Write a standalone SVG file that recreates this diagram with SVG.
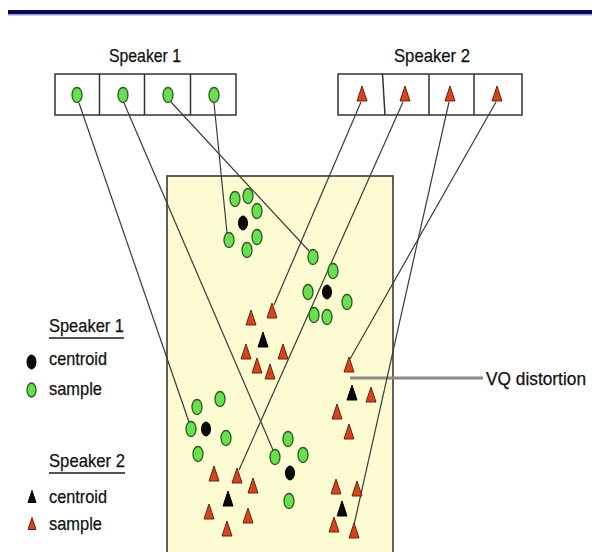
<svg xmlns="http://www.w3.org/2000/svg" xmlns:xlink="http://www.w3.org/1999/xlink" width="592" height="552" viewBox="0 0 592 552">
<style>
text{font-family:"Liberation Sans",Arial,sans-serif;font-size:19px;fill:#111111;stroke:#111111;stroke-width:0.25}
.cell{fill:#ffffff;stroke:#333333;stroke-width:1.5}
.g{fill:#6ade52;stroke:#2a5e1c;stroke-width:1.3}
.c{fill:#0a0a0a;stroke:#000000;stroke-width:1}
.r{fill:#d2451e;stroke:#6e2410;stroke-width:1}
.k{fill:#0a0a0a;stroke:#000000;stroke-width:1}
.ln{stroke:#3a3a3a;stroke-width:1.2;fill:none}
</style>
<defs>
<path id="tri" d="M0,-8 L5,7 L-5,7 Z"/>
<path id="trs" d="M0,-6.5 L4,5.5 L-4,5.5 Z"/>
<ellipse id="gc" cx="0" cy="0" rx="5" ry="7.5"/>
<ellipse id="bc" cx="0" cy="0" rx="4.5" ry="7"/>
</defs>
<rect width="592" height="552" fill="#ffffff"/>
<rect x="8" y="10" width="584" height="4" fill="#0b0b55"/>
<rect x="8" y="14" width="584" height="1.5" fill="#9a9ad8"/>

<g id="speaker1-codebook">
<text x="145" y="62" text-anchor="middle" textLength="72" lengthAdjust="spacingAndGlyphs">Speaker 1</text>
<rect class="cell" x="55" y="74" width="181" height="41"/>
<line x1="99.5" y1="74" x2="99.5" y2="115" stroke="#333" stroke-width="1.5"/>
<line x1="144.5" y1="74" x2="144.5" y2="115" stroke="#333" stroke-width="1.5"/>
<line x1="190.5" y1="74" x2="190.5" y2="115" stroke="#333" stroke-width="1.5"/>
<use href="#gc" class="g" x="77" y="95"/>
<use href="#gc" class="g" x="123" y="95"/>
<use href="#gc" class="g" x="168" y="95"/>
<use href="#gc" class="g" x="214" y="95"/>
</g>

<g id="speaker2-codebook">
<text x="432" y="62" text-anchor="middle" textLength="76" lengthAdjust="spacingAndGlyphs">Speaker 2</text>
<rect class="cell" x="338" y="74" width="184" height="41"/>
<line x1="382.5" y1="74" x2="385" y2="115" stroke="#333" stroke-width="1.5"/>
<line x1="429" y1="74" x2="429" y2="115" stroke="#333" stroke-width="1.5"/>
<line x1="474" y1="74" x2="474" y2="115" stroke="#333" stroke-width="1.5"/>
<use href="#tri" class="r" x="362" y="94"/>
<use href="#tri" class="r" x="405" y="94"/>
<use href="#tri" class="r" x="450" y="94"/>
<use href="#tri" class="r" x="497" y="94"/>
</g>

<g id="feature-space">
<rect x="167" y="176" width="226" height="390" fill="#fdfbd2" stroke="#3a3a3a" stroke-width="1.6"/>
</g>

<g id="vq-distortion">
<line x1="350" y1="378" x2="483" y2="378" stroke="#8a8a80" stroke-width="3"/>
<text x="486" y="385" style="font-size:18px" textLength="100" lengthAdjust="spacingAndGlyphs">VQ distortion</text>
</g>

<g id="connectors">
<line class="ln" x1="79" y1="103" x2="189" y2="422"/>
<line class="ln" x1="124" y1="103" x2="273" y2="450"/>
<line class="ln" x1="171" y1="102" x2="309" y2="251"/>
<line class="ln" x1="214" y1="103" x2="227" y2="233"/>
<line class="ln" x1="361" y1="102" x2="274" y2="305"/>
<line class="ln" x1="403" y1="102" x2="239" y2="470"/>
<line class="ln" x1="449" y1="102" x2="354" y2="525"/>
<line class="ln" x1="496" y1="102" x2="350" y2="359"/>
</g>

<g id="speaker1-cluster-a">
<use href="#gc" class="g" x="235" y="199"/>
<use href="#gc" class="g" x="248" y="196"/>
<use href="#gc" class="g" x="257" y="211"/>
<use href="#gc" class="g" x="257" y="237"/>
<use href="#gc" class="g" x="229" y="240"/>
<use href="#gc" class="g" x="247" y="250"/>
<use href="#bc" class="c" x="243" y="223"/>
</g>
<g id="speaker1-cluster-b">
<use href="#gc" class="g" x="313" y="257"/>
<use href="#gc" class="g" x="333" y="271"/>
<use href="#gc" class="g" x="308" y="292"/>
<use href="#gc" class="g" x="347" y="302"/>
<use href="#gc" class="g" x="314" y="315"/>
<use href="#gc" class="g" x="327" y="317"/>
<use href="#bc" class="c" x="327" y="292"/>
</g>
<g id="speaker1-cluster-c">
<use href="#gc" class="g" x="197" y="407"/>
<use href="#gc" class="g" x="220" y="399"/>
<use href="#gc" class="g" x="191" y="429"/>
<use href="#gc" class="g" x="226" y="438"/>
<use href="#gc" class="g" x="198" y="454"/>
<use href="#bc" class="c" x="206" y="429"/>
</g>
<g id="speaker1-cluster-d">
<use href="#gc" class="g" x="288" y="439"/>
<use href="#gc" class="g" x="303" y="455"/>
<use href="#gc" class="g" x="275" y="457"/>
<use href="#gc" class="g" x="289" y="501"/>
<use href="#bc" class="c" x="290" y="473"/>
</g>

<g id="speaker2-cluster-a">
<use href="#tri" class="r" x="272" y="311"/>
<use href="#tri" class="r" x="251" y="318"/>
<use href="#tri" class="r" x="246" y="352"/>
<use href="#tri" class="r" x="283" y="352"/>
<use href="#tri" class="r" x="257" y="366"/>
<use href="#tri" class="r" x="270" y="372"/>
<use href="#tri" class="k" x="263" y="340"/>
</g>
<g id="speaker2-cluster-b">
<use href="#tri" class="r" x="349" y="365"/>
<use href="#tri" class="r" x="371" y="395"/>
<use href="#tri" class="r" x="337" y="412"/>
<use href="#tri" class="r" x="349" y="432"/>
<use href="#tri" class="k" x="352" y="393"/>
</g>
<g id="speaker2-cluster-c">
<use href="#tri" class="r" x="336" y="487"/>
<use href="#tri" class="r" x="357" y="489"/>
<use href="#tri" class="r" x="334" y="525"/>
<use href="#tri" class="r" x="354" y="531"/>
<use href="#tri" class="k" x="342" y="509"/>
</g>
<g id="speaker2-cluster-d">
<use href="#tri" class="r" x="214" y="474"/>
<use href="#tri" class="r" x="237" y="476"/>
<use href="#tri" class="r" x="253" y="486"/>
<use href="#tri" class="r" x="209" y="512"/>
<use href="#tri" class="r" x="248" y="516"/>
<use href="#tri" class="r" x="227" y="529"/>
<use href="#tri" class="k" x="228" y="499"/>
</g>

<g id="legend">
<text x="49" y="332" textLength="75" lengthAdjust="spacingAndGlyphs">Speaker 1</text>
<line x1="49" y1="338" x2="124" y2="338" stroke="#1a1a1a" stroke-width="1.5"/>
<ellipse cx="31.5" cy="362" rx="4.5" ry="7" class="c"/>
<text x="49" y="365" textLength="58" lengthAdjust="spacingAndGlyphs">centroid</text>
<ellipse cx="31.5" cy="390" rx="4.5" ry="7" class="g"/>
<text x="49" y="395" textLength="53" lengthAdjust="spacingAndGlyphs">sample</text>
<text x="49" y="467" textLength="76" lengthAdjust="spacingAndGlyphs">Speaker 2</text>
<line x1="49" y1="473" x2="125" y2="473" stroke="#1a1a1a" stroke-width="1.5"/>
<use href="#trs" class="k" x="32" y="497"/>
<text x="49" y="503" textLength="58" lengthAdjust="spacingAndGlyphs">centroid</text>
<use href="#trs" class="r" x="32" y="524"/>
<text x="49" y="530" textLength="53" lengthAdjust="spacingAndGlyphs">sample</text>
</g>
</svg>
